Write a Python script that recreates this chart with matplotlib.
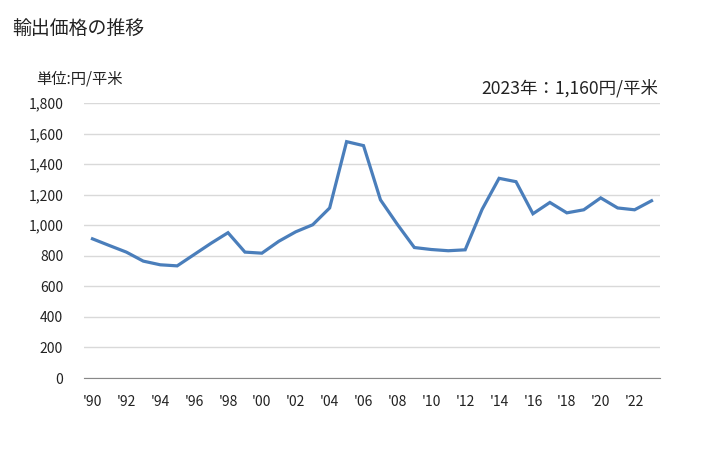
import matplotlib
matplotlib.use('Agg')
import matplotlib.pyplot as plt

plt.rcParams['font.family'] = ['Noto Sans CJK JP', 'DejaVu Sans']

years = list(range(1990, 2024))
prices = [911, 867, 824, 765, 741, 734, 808, 882, 951, 824,
          817, 895, 957, 1003, 1113, 1547, 1521, 1166, 1005, 854,
          841, 833, 839, 1104, 1307, 1285, 1075, 1149, 1081, 1101,
          1179, 1113, 1101, 1160]
xticklabels = ["'%02d" % (y % 100) if y % 2 == 0 else '' for y in years]
yticks = list(range(0, 1801, 200))

fig = plt.figure(figsize=(7.28, 4.5), dpi=100)
ax = fig.add_axes([84 / 728, 1 - 378 / 450, (660 - 84) / 728, (378 - 103) / 450])

pos = list(range(len(years)))
ax.plot(pos, prices, color='#4a7ebb', linewidth=2.3, solid_joinstyle='miter')

ax.set_xlim(-0.5, len(years) - 0.5)
ax.set_ylim(0, 1800)
ax.set_yticks(yticks)
ax.set_yticklabels(['{:,}'.format(v) for v in yticks], fontsize=10)
ax.set_xticks(pos)
ax.set_xticklabels(xticklabels, fontsize=10)
ax.tick_params(length=0, pad=12, colors='#222222')
ax.tick_params(axis='y', pad=15)
ax.grid(axis='y', color='#d9d9d9', linewidth=1)
ax.set_axisbelow(True)
for s in ['top', 'right', 'left']:
    ax.spines[s].set_visible(False)
ax.spines['bottom'].set_color('#888888')

fig.text(12 / 728, 1 - 28 / 450, '輸出価格の推移', fontsize=13.6, va='center', ha='left', color='#222222')
fig.text(36 / 728, 1 - 79 / 450, '単位:円/平米', fontsize=11, va='center', ha='left', color='#222222')
fig.text(658 / 728, 1 - 88 / 450, '2023年：1,160円/平米', fontsize=12.6, va='center', ha='right', color='#222222')

fig.savefig('out.png', dpi=100)
